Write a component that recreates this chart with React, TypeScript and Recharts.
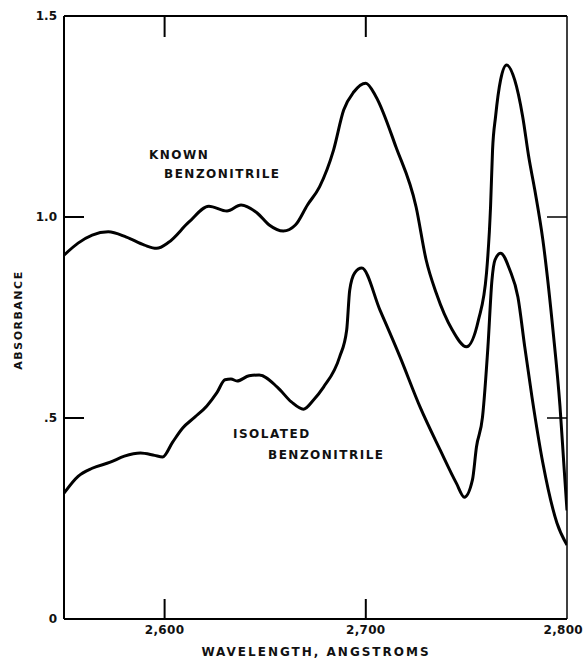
import React from 'react';
import { LineChart, Line, XAxis, YAxis, Customized } from 'recharts';

const knownWavelength = [2550, 2557, 2564, 2572, 2581, 2590, 2596, 2602, 2612, 2622, 2631, 2638, 2646, 2652, 2659, 2665, 2671, 2677, 2684, 2689, 2694, 2700, 2705, 2715, 2725, 2730, 2735, 2743, 2750, 2756, 2760, 2762, 2763, 2764.5, 2767, 2770, 2774, 2778, 2781, 2784, 2788, 2793, 2796.5, 2798.5, 2800];
const knownAbsorbance = [0.905, 0.935, 0.955, 0.963, 0.95, 0.93, 0.922, 0.937, 0.987, 1.027, 1.015, 1.03, 1.01, 0.98, 0.965, 0.98, 1.03, 1.075, 1.167, 1.266, 1.311, 1.333, 1.3, 1.174, 1.025, 0.893, 0.811, 0.719, 0.677, 0.744, 0.861, 1.025, 1.167, 1.25, 1.341, 1.378, 1.341, 1.249, 1.149, 1.067, 0.943, 0.72, 0.53, 0.38, 0.27];

const isolatedWavelength = [2550, 2557, 2564, 2573, 2580, 2588, 2595, 2599, 2604, 2609, 2615, 2621, 2626, 2630, 2633, 2636, 2642, 2647, 2656, 2663, 2669, 2674, 2679, 2687, 2690.5, 2692, 2694.5, 2698, 2707, 2717, 2727, 2737, 2745, 2749, 2753, 2755, 2758, 2760.7, 2762.7, 2764.2, 2767, 2771.6, 2775.6, 2779, 2782.6, 2788, 2795, 2800];
const isolatedAbsorbance = [0.313, 0.355, 0.375, 0.39, 0.405, 0.413, 0.407, 0.403, 0.44, 0.475, 0.502, 0.53, 0.563, 0.595, 0.597, 0.592, 0.605, 0.607, 0.577, 0.54, 0.522, 0.545, 0.577, 0.652, 0.719, 0.818, 0.861, 0.873, 0.769, 0.652, 0.527, 0.42, 0.338, 0.303, 0.346, 0.428, 0.502, 0.677, 0.843, 0.893, 0.91, 0.868, 0.801, 0.677, 0.552, 0.388, 0.239, 0.184];

const xTicks = [2600, 2700, 2800];
const xTickLabels = ['2,600', '2,700', '2,800'];
const yTicks = [0, 0.5, 1.0, 1.5];
const yTickLabels = ['0', '.5', '1.0', '1.5'];
const topTicks = [2600, 2700];
const rightTicks = [0.5, 1.0];

const knownData = knownWavelength.map((w, i) => ({ w, a: knownAbsorbance[i] }));
const isolatedData = isolatedWavelength.map((w, i) => ({ w, a: isolatedAbsorbance[i] }));

const FONT = '"DejaVu Sans", sans-serif';
const TICK_LEN = 20;

const BottomTick = (props: any) => {
  const { x, y, payload } = props;
  const idx = xTicks.indexOf(payload.value);
  const inner = payload.value !== 2800;
  const last = idx === xTicks.length - 1;
  return (
    <g>
      {inner && <line x1={x} y1={y} x2={x} y2={y - TICK_LEN} stroke="#000" strokeWidth={2} />}
      <text x={last ? x + 16 : x} y={y + 15} textAnchor={last ? 'end' : 'middle'} fontFamily={FONT} fontSize={12} fontWeight="bold" letterSpacing={0.3} fill="#111">
        {xTickLabels[idx]}
      </text>
    </g>
  );
};

const LeftTick = (props: any) => {
  const { x, y, payload } = props;
  const idx = yTicks.indexOf(payload.value);
  const inner = payload.value !== 0 && payload.value !== 1.5;
  return (
    <g>
      {inner && <line x1={x} y1={y} x2={x + TICK_LEN} y2={y} stroke="#000" strokeWidth={2} />}
      <text x={x - 7} y={y + 4} textAnchor="end" fontFamily={FONT} fontSize={12} fontWeight="bold" fill="#111">
        {yTickLabels[idx]}
      </text>
    </g>
  );
};

const TopTick = (props: any) => {
  const { x, y } = props;
  return <line x1={x} y1={y} x2={x} y2={y + TICK_LEN + 1} stroke="#000" strokeWidth={2} />;
};

const RightTick = (props: any) => {
  const { x, y } = props;
  return <line x1={x} y1={y} x2={x - TICK_LEN} y2={y} stroke="#000" strokeWidth={1.5} />;
};

const Annotations = () => (
  <g fontFamily={FONT} fontWeight="bold" fontSize={12} fill="#111" letterSpacing={1.5}>
    <text x={149} y={159}>KNOWN</text>
    <text x={164} y={178}>BENZONITRILE</text>
    <text x={233} y={438}>ISOLATED</text>
    <text x={268} y={459}>BENZONITRILE</text>
    <text x={316} y={656} textAnchor="middle" letterSpacing={2}>WAVELENGTH, ANGSTROMS</text>
    <text x={22} y={320} textAnchor="middle" fontSize={11} letterSpacing={1.5} transform="rotate(-90 22 320)">ABSORBANCE</text>
  </g>
);

export default function App() {
  return (
    <div style={{ position: 'absolute', left: 0, top: 0, background: '#fff' }}>
      <LineChart width={585} height={662} margin={{ top: 15, right: 17, bottom: 13, left: 24 }}>
        <XAxis
          xAxisId="bottom"
          dataKey="w"
          type="number"
          domain={[2550, 2800]}
          ticks={xTicks}
          allowDataOverflow
          height={30}
          axisLine={{ stroke: '#000', strokeWidth: 2 }}
          tickLine={false}
          tickSize={0}
          tickMargin={0}
          tick={<BottomTick />}
          interval={0}
        />
        <XAxis
          xAxisId="top"
          orientation="top"
          dataKey="w"
          type="number"
          domain={[2550, 2800]}
          ticks={topTicks}
          allowDataOverflow
          height={1}
          axisLine={{ stroke: '#000', strokeWidth: 2 }}
          tickLine={false}
          tickSize={0}
          tickMargin={0}
          tick={<TopTick />}
          interval={0}
        />
        <YAxis
          yAxisId="left"
          type="number"
          domain={[0, 1.5]}
          ticks={yTicks}
          allowDataOverflow
          width={40}
          axisLine={{ stroke: '#000', strokeWidth: 2 }}
          tickLine={false}
          tickSize={0}
          tickMargin={0}
          tick={<LeftTick />}
          interval={0}
        />
        <YAxis
          yAxisId="right"
          orientation="right"
          type="number"
          domain={[0, 1.5]}
          ticks={rightTicks}
          allowDataOverflow
          width={1}
          axisLine={{ stroke: '#000', strokeWidth: 1.5 }}
          tickLine={false}
          tickSize={0}
          tickMargin={0}
          tick={<RightTick />}
          interval={0}
        />
        <Line
          xAxisId="bottom"
          yAxisId="left"
          data={knownData}
          dataKey="a"
          type="monotone"
          stroke="#000"
          strokeWidth={3}
          dot={false}
          activeDot={false}
          isAnimationActive={false}
        />
        <Line
          xAxisId="bottom"
          yAxisId="left"
          data={isolatedData}
          dataKey="a"
          type="monotone"
          stroke="#000"
          strokeWidth={3}
          dot={false}
          activeDot={false}
          isAnimationActive={false}
        />
        <Customized component={Annotations} />
      </LineChart>
    </div>
  );
}
